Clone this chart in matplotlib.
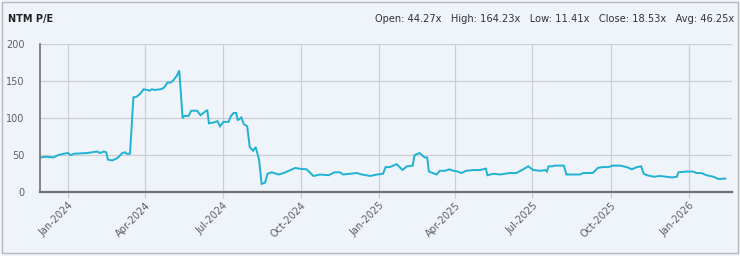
import numpy as np
import pandas as pd
import matplotlib
matplotlib.use("Agg")
import matplotlib.pyplot as plt
import matplotlib.dates as mdates
from matplotlib.patches import Rectangle

# NTM P/E series
dates = [
    "2023-11-30", "2023-12-06", "2023-12-15", "2023-12-20", "2023-12-27", "2024-01-01",
    "2024-01-04", "2024-01-08", "2024-01-24", "2024-02-04", "2024-02-08", "2024-02-12",
    "2024-02-15", "2024-02-17", "2024-02-22", "2024-02-28", "2024-03-05", "2024-03-08",
    "2024-03-10", "2024-03-14", "2024-03-18", "2024-03-22", "2024-03-26", "2024-03-30",
    "2024-04-03", "2024-04-06", "2024-04-09", "2024-04-12", "2024-04-19", "2024-04-23",
    "2024-04-27", "2024-05-01", "2024-05-04", "2024-05-08", "2024-05-11", "2024-05-15",
    "2024-05-17", "2024-05-22", "2024-05-25", "2024-06-01", "2024-06-05", "2024-06-13",
    "2024-06-15", "2024-06-20", "2024-06-25", "2024-06-28", "2024-07-02", "2024-07-08",
    "2024-07-11", "2024-07-14", "2024-07-17", "2024-07-19", "2024-07-23", "2024-07-26",
    "2024-07-30", "2024-08-02", "2024-08-06", "2024-08-09", "2024-08-13", "2024-08-16",
    "2024-08-20", "2024-08-23", "2024-08-28", "2024-09-05", "2024-09-11", "2024-09-15",
    "2024-09-25", "2024-09-28", "2024-10-08", "2024-10-16", "2024-10-24", "2024-11-03",
    "2024-11-10", "2024-11-16", "2024-11-20", "2024-12-06", "2024-12-12", "2024-12-22",
    "2024-12-30", "2025-01-06", "2025-01-09", "2025-01-14", "2025-01-22", "2025-01-29",
    "2025-02-03", "2025-02-10", "2025-02-12", "2025-02-18", "2025-02-24", "2025-02-27",
    "2025-03-01", "2025-03-10", "2025-03-14", "2025-03-20", "2025-03-25", "2025-03-30",
    "2025-04-04", "2025-04-08", "2025-04-14", "2025-04-22", "2025-04-30", "2025-05-07",
    "2025-05-09", "2025-05-16", "2025-05-24", "2025-06-04", "2025-06-12", "2025-06-20",
    "2025-06-26", "2025-07-02", "2025-07-10", "2025-07-16", "2025-07-18", "2025-07-20",
    "2025-07-24", "2025-07-27", "2025-08-07", "2025-08-10", "2025-08-18", "2025-08-26",
    "2025-08-30", "2025-09-10", "2025-09-16", "2025-09-22", "2025-09-28", "2025-10-04",
    "2025-10-12", "2025-10-20", "2025-10-26", "2025-11-01", "2025-11-06", "2025-11-09",
    "2025-11-13", "2025-11-21", "2025-11-28", "2025-12-06", "2025-12-12", "2025-12-18",
    "2025-12-20", "2025-12-30", "2026-01-06", "2026-01-10", "2026-01-16", "2026-01-22",
    "2026-01-30", "2026-02-05", "2026-02-13",
]
pe = [
    47, 48, 47, 50, 52, 53,
    50, 52, 53, 55, 53, 55,
    54, 44, 43, 46, 53, 54,
    52, 52, 128, 129, 133, 139,
    138, 137, 139, 138, 139, 141,
    148, 148, 151, 157, 164.2, 100,
    103, 103, 110, 110, 104, 111,
    93, 94, 96, 89, 95, 95,
    103, 107, 107, 97, 101, 92,
    89, 61, 56, 61, 44, 11.4,
    13, 25, 27, 24, 26, 28,
    33, 32, 31, 22, 24, 23,
    27, 27, 24, 26, 24, 22,
    24, 25, 34, 34, 38, 30,
    35, 36, 50, 53, 47, 47,
    28, 24, 29, 29, 31, 29,
    28, 26, 29, 30, 30, 32,
    23, 25, 24, 26, 26, 31,
    35, 30, 29, 30, 28, 35,
    35, 36, 36, 24, 24, 24,
    26, 26, 33, 34, 34, 36,
    36, 34, 31, 34, 35, 25,
    23, 21, 22, 21, 20, 21,
    27, 28, 28, 26, 26, 23,
    21, 18, 18.5,
]
stats = "Open: 44.27x   High: 164.23x   Low: 11.41x   Close: 18.53x   Avg: 46.25x"
title = "NTM P/E"

bg = "#eef4fa"
line_color = "#1fb2d2"
grid_color = "#cbcfd4"
text_color = "#606060"

fig = plt.figure(figsize=(7.4, 2.56), dpi=100, facecolor=bg)
fig.patches.append(Rectangle((2 / 740, 3 / 256), 736 / 740, 251 / 256,
                             transform=fig.transFigure, fill=False,
                             edgecolor="#b8b8b8", linewidth=1.0))

ax = fig.add_axes([40 / 740, 1 - 192.3 / 256, 692 / 740, 148.3 / 256])
ax.set_facecolor(bg)

x = pd.to_datetime(dates)
ax.plot(x, pe, color=line_color, linewidth=1.4, solid_joinstyle="miter")

ax.set_xlim(pd.Timestamp("2023-11-29"), pd.Timestamp("2026-02-21"))
ax.set_ylim(0, 200)
ax.set_yticks([0, 50, 100, 150, 200])

ax.xaxis.set_major_locator(mdates.MonthLocator(bymonth=[1, 4, 7, 10]))
ax.xaxis.set_major_formatter(mdates.DateFormatter("%b-%Y"))

ax.grid(True, color=grid_color, linewidth=0.9)
ax.set_axisbelow(True)

for side in ["top", "right"]:
    ax.spines[side].set_visible(False)
ax.spines["left"].set_color("#707070")
ax.spines["left"].set_linewidth(1.2)
ax.spines["bottom"].set_color("#707070")
ax.spines["bottom"].set_linewidth(1.6)

ax.tick_params(axis="y", length=0, pad=11, labelsize=7, labelcolor=text_color)
ax.tick_params(axis="x", length=4, color=grid_color, width=0.9, pad=2,
               labelsize=7, labelcolor=text_color)
for lbl in ax.get_xticklabels():
    lbl.set_rotation(45)
    lbl.set_ha("right")
    lbl.set_rotation_mode("anchor")

fig.text(8 / 740, 1 - 19 / 256, title, fontsize=7, fontweight="bold",
         color="#222222", va="center", ha="left")
fig.text(734 / 740, 1 - 19 / 256, stats, fontsize=7.1, color="#333333",
         va="center", ha="right")

fig.savefig("out.png", dpi=100, facecolor=bg)
